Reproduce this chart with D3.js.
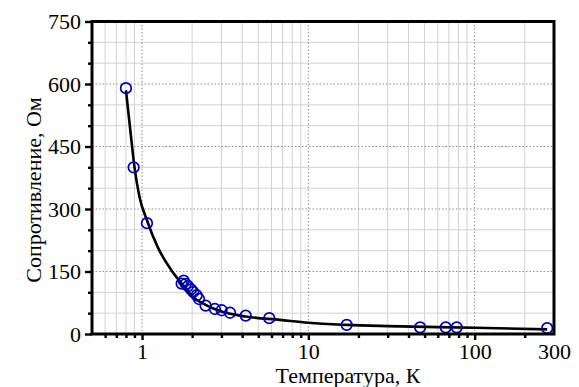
<!DOCTYPE html>
<html>
<head>
<meta charset="utf-8">
<script src="https://cdn.jsdelivr.net/npm/d3@7"></script>
<style>
  body { margin: 0; background: #fff; }
</style>
</head>
<body>
<script>
// measured points (temperature, K / resistance, Ohm)
var tempK  = [0.80, 0.89, 1.07, 1.73, 1.78, 1.83, 1.89, 1.97, 2.03, 2.13, 2.20, 2.41, 2.74, 3.01, 3.38, 4.2, 5.82, 17, 47, 67, 78, 273];
var resOhm = [590, 400, 266, 121, 128, 120, 115, 107, 101, 93, 84, 68, 60, 57, 51, 44, 38, 22, 16, 16, 16, 14];

// fitted curve
var fitT = [0.80, 0.85, 0.90, 0.965, 1.07, 1.24, 1.5, 1.8, 1.94, 2.1, 2.33, 2.94, 4.2, 6.75, 10, 17, 30, 100, 273];
var fitR = [585, 489, 401, 329, 273, 209, 153, 113, 97, 84, 73, 55, 42, 34, 27, 22, 19, 15, 11];

var xTickLabels = [1, 10, 100, 300];
var yTickLabels = [0, 150, 300, 450, 600, 750];
var xMinor = [0.6, 0.7, 0.8, 0.9, 2, 3, 4, 5, 6, 7, 8, 9, 20, 30, 40, 50, 60, 70, 80, 90, 200];
var yMinor = [50, 100, 200, 250, 350, 400, 500, 550, 650, 700];

var W = 579, H = 387;
var margin = {top: 21.5, right: 25, bottom: 53, left: 92};
var FONT = "'Liberation Serif', 'Times New Roman', 'DejaVu Serif', serif";

var svg = d3.select("body").append("svg")
  .attr("width", W)
  .attr("height", H)
  .style("font-family", FONT);

var x = d3.scaleLog()
  .domain([0.5, 300])
  .range([margin.left, W - margin.right]);

var y = d3.scaleLinear()
  .domain([0, 750])
  .range([H - margin.bottom, margin.top]);

var x0 = x.range()[0], x1 = x.range()[1];
var y0 = y.range()[0], y1 = y.range()[1];

// grid: minor solid, major dotted
var grid = svg.append("g");
grid.selectAll(".gx").data(xMinor).enter().append("line")
  .attr("x1", function(d) { return x(d); }).attr("x2", function(d) { return x(d); })
  .attr("y1", y1).attr("y2", y0)
  .attr("stroke", "#d2d2d2").attr("stroke-width", 1);
grid.selectAll(".gy").data(yMinor).enter().append("line")
  .attr("y1", function(d) { return y(d); }).attr("y2", function(d) { return y(d); })
  .attr("x1", x0).attr("x2", x1)
  .attr("stroke", "#d2d2d2").attr("stroke-width", 1);
grid.selectAll(".gxm").data([1, 10, 100]).enter().append("line")
  .attr("x1", function(d) { return x(d); }).attr("x2", function(d) { return x(d); })
  .attr("y1", y1).attr("y2", y0)
  .attr("stroke", "#8c8c8c").attr("stroke-width", 1).attr("stroke-dasharray", "1.5,2");
grid.selectAll(".gym").data([150, 300, 450, 600]).enter().append("line")
  .attr("y1", function(d) { return y(d); }).attr("y2", function(d) { return y(d); })
  .attr("x1", x0).attr("x2", x1)
  .attr("stroke", "#8c8c8c").attr("stroke-width", 1).attr("stroke-dasharray", "1.5,2");

// fit curve
var line = d3.line()
  .x(function(d) { return x(d[0]); })
  .y(function(d) { return y(d[1]); })
  .curve(d3.curveMonotoneX);

svg.append("path")
  .datum(fitT.map(function(t, i) { return [t, fitR[i]]; }))
  .attr("d", line)
  .attr("fill", "none")
  .attr("stroke", "#000")
  .attr("stroke-width", 2.6);

// points
svg.selectAll(".pt")
  .data(tempK.map(function(t, i) { return [t, resOhm[i]]; }))
  .enter().append("circle")
  .attr("cx", function(d) { return x(d[0]); })
  .attr("cy", function(d) { return y(d[1]); })
  .attr("r", 5.3)
  .attr("fill", "none")
  .attr("stroke", "#0000a8")
  .attr("stroke-width", 1.7);

// frame
svg.append("rect")
  .attr("x", x0).attr("y", y1)
  .attr("width", x1 - x0).attr("height", y0 - y1)
  .attr("fill", "none").attr("stroke", "#000").attr("stroke-width", 3);

// y axis ticks
var yAxisMajor = d3.axisLeft(y).tickValues(yTickLabels).tickSize(7).tickPadding(4);
var yAxisMinor = d3.axisLeft(y).tickValues(yMinor).tickSize(4).tickFormat("");
var gy = svg.append("g").attr("transform", "translate(" + x0 + ",0)").call(yAxisMajor);
var gy2 = svg.append("g").attr("transform", "translate(" + x0 + ",0)").call(yAxisMinor);

// x axis ticks
var xAxisMajor = d3.axisBottom(x).tickValues(xTickLabels).tickSize(6).tickPadding(3)
  .tickFormat(function(d) { return d; });
var xAxisMinor = d3.axisBottom(x).tickValues(xMinor).tickSize(4).tickFormat("");
var gx = svg.append("g").attr("transform", "translate(0," + y0 + ")").call(xAxisMajor);
var gx2 = svg.append("g").attr("transform", "translate(0," + y0 + ")").call(xAxisMinor);

[gy, gy2, gx, gx2].forEach(function(g) {
  g.attr("font-family", null).attr("font-size", 22);
  g.select(".domain").remove();
  g.selectAll(".tick line").attr("stroke", "#000").attr("stroke-width", 2.4);
  g.selectAll(".tick text").attr("fill", "#000");
});
gx.selectAll(".tick line").filter(function(d) { return d === 300; }).remove();

// axis titles
svg.append("text")
  .attr("x", 348)
  .attr("y", 383)
  .attr("text-anchor", "middle")
  .attr("font-size", 22)
  .text("Температура, К");

svg.append("text")
  .attr("transform", "translate(41,190) rotate(-90)")
  .attr("text-anchor", "middle")
  .attr("font-size", 22)
  .text("Сопротивление, Ом");
</script>
</body>
</html>
